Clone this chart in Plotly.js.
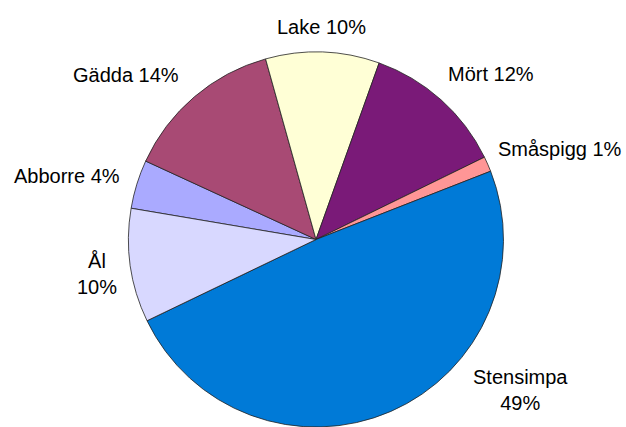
<!DOCTYPE html>
<html>
<head>
<meta charset="utf-8">
<script src="https://cdn.plot.ly/plotly-3.0.1.min.js"></script>
<style>html,body{margin:0;padding:0;background:#fff;}#chart{width:626px;height:427px;}</style>
</head>
<body>
<div id="chart"></div>
<script>
// Data (percent shares)
var species = ['Abborre', 'Gädda', 'Lake', 'Mört', 'Småspigg', 'Stensimpa', 'Ål'];
var shares  = [4.2, 13.8, 9.8, 12.3, 1.3, 48.8, 9.8];
var sliceColors = ['#AAAAFF', '#A84A74', '#FFFFD6', '#7A1A78', '#FF9696', '#007AD7', '#D8D8FF'];
var twoLineLabel = [false, false, false, false, false, true, true];

// label anchor positions in pixels (center x, vertical middle y)
var labelPos = [[66.5, 176], [126, 75], [321.5, 27.5], [491, 74], [560, 149], [520.5, 390], [97, 274]];

var W = 626, H = 427;
var total = shares.reduce(function (a, b) { return a + b; }, 0);
var annotations = species.map(function (s, i) {
  var pct = Math.round(shares[i] / total * 100);
  return {
    text: s + (twoLineLabel[i] ? '<br>' : ' ') + pct + '%',
    xref: 'paper', yref: 'paper',
    x: labelPos[i][0] / W, y: 1 - labelPos[i][1] / H,
    xanchor: 'center', yanchor: 'middle',
    showarrow: false,
    font: {family: 'Liberation Sans, Arial, sans-serif', size: 20, color: '#000'}
  };
});

var trace = {
  type: 'pie',
  labels: species,
  values: shares,
  sort: false,
  direction: 'clockwise',
  rotation: 279.6,
  textinfo: 'none',
  hoverinfo: 'label+percent',
  marker: {colors: sliceColors, line: {color: '#222222', width: 0.8}},
  domain: {x: [128 / W, 504 / W], y: [0, 1 - 52 / H]},
  showlegend: false
};

var layout = {
  width: W, height: H,
  margin: {l: 0, r: 0, t: 0, b: 0},
  paper_bgcolor: '#ffffff',
  plot_bgcolor: '#ffffff',
  showlegend: false,
  annotations: annotations
};

Plotly.newPlot('chart', [trace], layout, {displayModeBar: false, staticPlot: true});
</script>
</body>
</html>
